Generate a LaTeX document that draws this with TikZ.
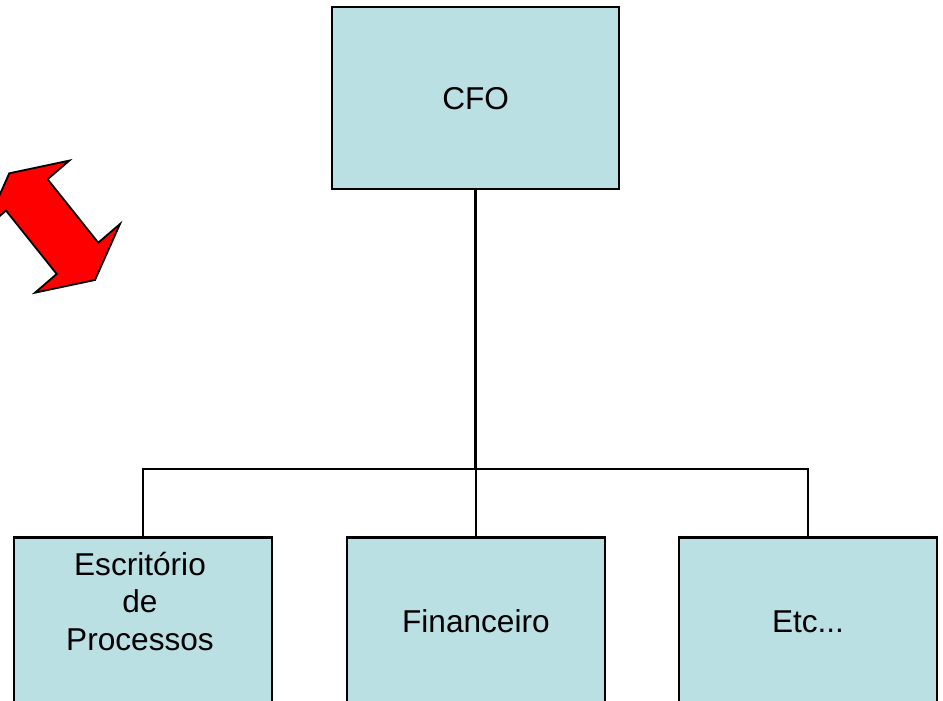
\documentclass[tikz,border=0pt]{standalone}
\usepackage{fontspec}
\setmainfont{Liberation Sans}
\definecolor{boxfill}{RGB}{187,224,227}
\tikzset{
  orgbox/.style={draw=black, line width=2.3pt, fill=boxfill, rectangle, inner sep=0pt,
    font=\fontsize{31.6}{37.5}\selectfont, text height=22.6pt, text depth=0pt},
  orgtext/.style={font=\fontsize{31.6}{37.5}\selectfont, align=center, inner sep=0pt},
  thinline/.style={line width=1.1pt, draw=black},
  midline/.style={line width=2.3pt, draw=black},
}
\begin{document}
\begin{tikzpicture}[x=1pt,y=-1pt]
\useasboundingbox (0,0) rectangle (943,701);
\fill[white] (0,0) rectangle (943,701);
\clip (0,0) rectangle (943,701);
% red double arrow
\draw[line width=1.8pt, fill=red, line join=miter]
  (9.3,173.3) -- (69.3,160.6) -- (47.6,179.3) -- (98.3,242.7) -- (120,224)
  -- (95,280) -- (35,292.7) -- (56.7,274) -- (6,210.6) -- (-15.7,229.3) -- cycle;
% boxes
\node[orgbox, minimum width=287.3pt, minimum height=181.7pt] (cfo) at (475.6,98.2) {CFO};
\node[orgbox, minimum width=257.4pt, minimum height=167.7pt] (esc) at (143,621.2) {};
\node[orgbox, minimum width=258.3pt, minimum height=167.7pt] (fin) at (475.9,621.2) {Financeiro};
\node[orgbox, minimum width=258pt, minimum height=167.7pt] (etc) at (808,621.2) {Etc...};
\node[orgtext, anchor=base] (esctext) at (140,650) {Escritório\\de\\Processos};
% connectors
\coordinate (bus) at (0,469);
\draw[midline] (cfo.south) -- (cfo.south |- bus);
\draw[thinline] (esc.north) -- (esc.north |- bus) -| (etc.north);
\draw[midline] (fin.north) -- (fin.north |- bus);
\end{tikzpicture}
\end{document}
